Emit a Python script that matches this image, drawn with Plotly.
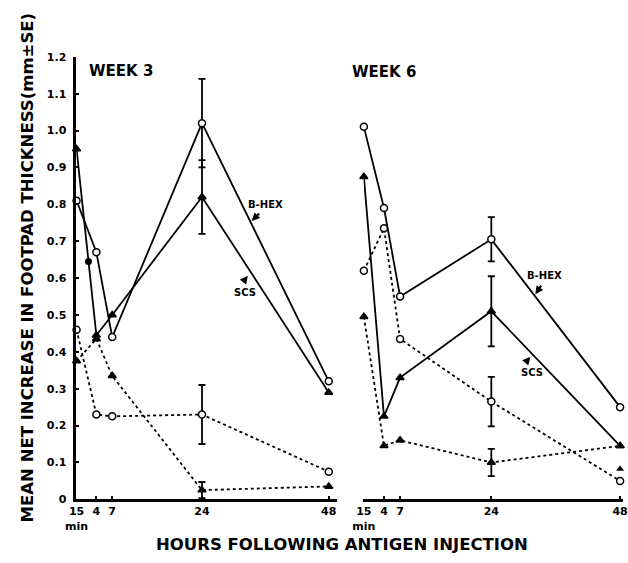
import plotly.graph_objects as go

# ---------------- data ----------------
hours = [0.25, 4, 7, 24, 48]
x_tick_vals = [0.25, 4, 7, 24, 48]
x_tick_text = ["15<br>min", "4", "7", "24", "48"]
y_tick_vals = [0, 0.1, 0.2, 0.3, 0.4, 0.5, 0.6, 0.7, 0.8, 0.9, 1.0, 1.1, 1.2]
y_tick_text = ["0", "0.1", "0.2", "0.3", "0.4", "0.5", "0.6", "0.7", "0.8", "0.9", "1.0", "1.1", "1.2"]

# Week 3
w3_bhex = [0.81, 0.67, 0.44, 1.02, 0.32]
w3_bhex_se = [0, 0, 0, 0.12, 0]
w3_scs = [0.95, 0.445, 0.50, 0.82, 0.29]
w3_scs_se = [0, 0, 0, 0.10, 0]
w3_ctrl_circle = [0.46, 0.23, 0.225, 0.23, 0.075]
w3_ctrl_circle_se = [0, 0, 0, 0.08, 0]
w3_ctrl_tri = [0.375, 0.435, 0.335, 0.025, 0.035]
w3_ctrl_tri_se = [0, 0, 0, 0.022, 0]
w3_extra_dot_h = [2.5]
w3_extra_dot_v = [0.645]

# Week 6
w6_bhex = [1.01, 0.79, 0.55, 0.705, 0.25]
w6_bhex_se = [0, 0, 0, 0.06, 0]
w6_scs = [0.875, 0.225, 0.33, 0.51, 0.145]
w6_scs_se = [0, 0, 0, 0.095, 0]
w6_ctrl_circle = [0.62, 0.735, 0.435, 0.265, 0.05]
w6_ctrl_circle_se = [0, 0, 0, 0.067, 0]
w6_ctrl_tri = [0.495, 0.145, 0.16, 0.10, 0.145]
w6_ctrl_tri_se = [0, 0, 0, 0.037, 0]
w6_extra_tri_h = [48]
w6_extra_tri_v = [0.082]

# ---------------- layout helpers ----------------
W, H = 628, 563
def PX(x):
    return x / W
def PY(y):
    return 1 - y / H

FONT = "DejaVu Sans"
BLACK = "black"
fig = go.Figure()

def add_series(xa, ya, vals, se, symbol, filled, dash):
    idx = [i for i, s in enumerate(se) if s > 0]
    fig.add_trace(go.Scatter(
        x=[hours[i] for i in idx], y=[vals[i] for i in idx],
        xaxis=xa, yaxis=ya, mode="markers",
        marker=dict(size=1, color="rgba(0,0,0,0)"),
        error_y=dict(type="data", array=[se[i] for i in idx], symmetric=True,
                     color=BLACK, thickness=1.8, width=3.5),
        cliponaxis=False, showlegend=False, hoverinfo="skip"))
    fig.add_trace(go.Scatter(
        x=hours, y=vals, xaxis=xa, yaxis=ya, mode="lines+markers",
        line=dict(color=BLACK, width=1.8, dash=dash),
        marker=dict(symbol=symbol, size=7,
                    color=BLACK if filled else "white",
                    line=dict(color=BLACK, width=1.5)),
        cliponaxis=False, showlegend=False))

DOT = "3px,3px"
# Week 3 panel
add_series("x", "y", w3_ctrl_circle, w3_ctrl_circle_se, "circle", False, DOT)
add_series("x", "y", w3_ctrl_tri, w3_ctrl_tri_se, "triangle-up", True, DOT)
add_series("x", "y", w3_scs, w3_scs_se, "triangle-up", True, "solid")
add_series("x", "y", w3_bhex, w3_bhex_se, "circle", False, "solid")
fig.add_trace(go.Scatter(x=w3_extra_dot_h, y=w3_extra_dot_v, xaxis="x", yaxis="y",
                         mode="markers", marker=dict(symbol="circle", size=7, color=BLACK),
                         cliponaxis=False, showlegend=False))
# Week 6 panel
add_series("x2", "y2", w6_ctrl_circle, w6_ctrl_circle_se, "circle", False, DOT)
add_series("x2", "y2", w6_ctrl_tri, w6_ctrl_tri_se, "triangle-up", True, DOT)
add_series("x2", "y2", w6_scs, w6_scs_se, "triangle-up", True, "solid")
add_series("x2", "y2", w6_bhex, w6_bhex_se, "circle", False, "solid")
fig.add_trace(go.Scatter(x=w6_extra_tri_h, y=w6_extra_tri_v, xaxis="x2", yaxis="y2",
                         mode="markers", marker=dict(symbol="triangle-up", size=7, color=BLACK),
                         cliponaxis=False, showlegend=False))

tickfont = dict(family=FONT, size=11, color=BLACK, weight="bold")
xcommon = dict(tickvals=x_tick_vals, ticktext=x_tick_text, ticks="inside", ticklen=4,
               tickwidth=2, tickcolor=BLACK, showline=True, linewidth=2.5, linecolor=BLACK,
               showgrid=False, zeroline=False, tickfont=tickfont, tickangle=0,
               ticklabeloverflow="allow")
fig.update_layout(
    width=W, height=H,
    margin=dict(l=0, r=0, t=0, b=0),
    paper_bgcolor="white", plot_bgcolor="white",
    font=dict(family=FONT, color=BLACK),
    xaxis=dict(domain=[PX(67), PX(335)], range=[0.2, 49.65], anchor="y", **xcommon),
    xaxis2=dict(domain=[PX(361.7), 1.0], range=[0.18, 48.54], anchor="y2", **xcommon),
    yaxis=dict(domain=[PY(505), PY(52)], range=[0, 1.2], anchor="x",
               tickvals=y_tick_vals, ticktext=y_tick_text, ticks="inside", ticklen=3,
               tickwidth=2, tickcolor=BLACK, showline=True, linewidth=2.5, linecolor=BLACK,
               showgrid=False, zeroline=False, tickfont=tickfont, ticklabelstandoff=5),
    yaxis2=dict(domain=[PY(505), PY(52)], range=[0, 1.2], anchor="x2", visible=False),
)

def text(x, y, s, size, angle=0):
    fig.add_annotation(x=PX(x), y=PY(y), xref="paper", yref="paper", text=s,
                       showarrow=False, textangle=angle, xanchor="center", yanchor="middle",
                       font=dict(family=FONT, size=size, color=BLACK, weight="bold"))

def arrow(hx, hy, tx, ty):
    fig.add_annotation(x=PX(hx), y=PY(hy), xref="paper", yref="paper",
                       ax=tx - hx, ay=ty - hy, text="", showarrow=True,
                       arrowhead=2, arrowsize=0.8, arrowwidth=2, arrowcolor=BLACK,
                       standoff=0, startstandoff=0)

text(113, 67, "WEEK 3", 15)
text(383, 68, "WEEK 6", 15)
text(261, 203, "B-HEX", 10)
arrow(247, 220, 256, 211)
text(240, 293, "SCS", 10)
arrow(243, 276, 237, 284)
text(547, 276, "B-HEX", 10)
arrow(538, 295, 545, 285)
text(535, 375, "SCS", 10)
arrow(533, 359, 527, 366)
text(340, 551, "HOURS FOLLOWING ANTIGEN INJECTION", 16.5)
text(17, 268, "MEAN NET INCREASE IN FOOTPAD THICKNESS(mm±SE)", 16.5, angle=-90)

fig.write_html("out.html")
